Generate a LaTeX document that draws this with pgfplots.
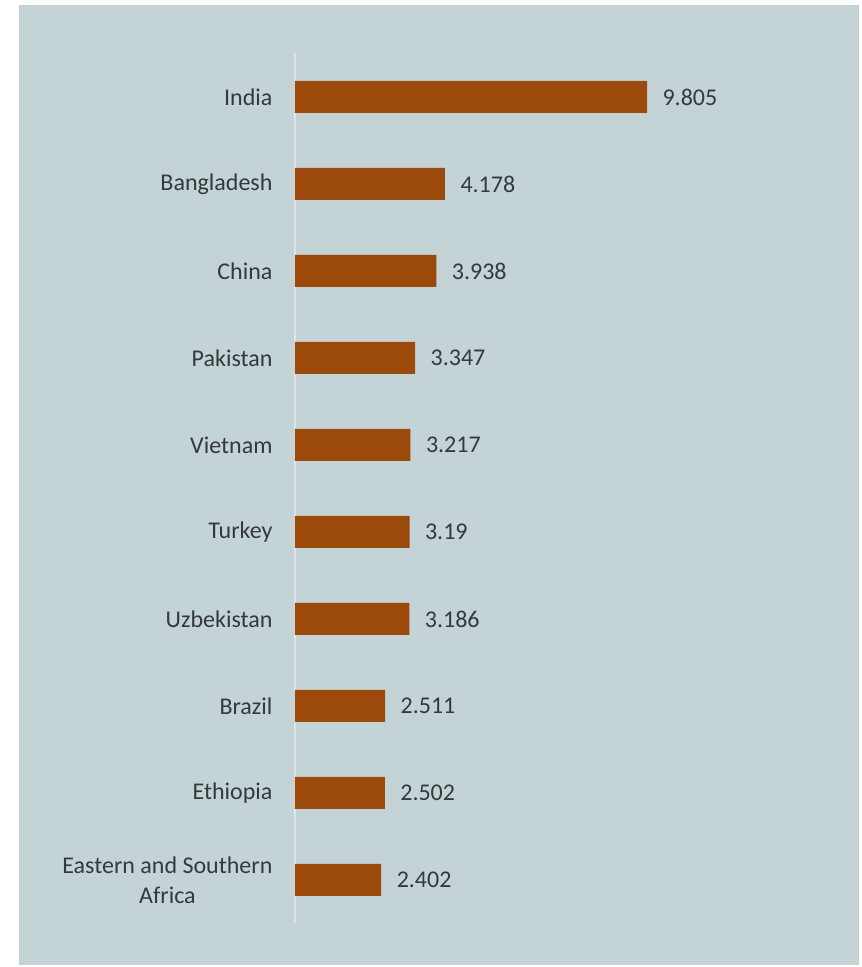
\documentclass[border=0pt]{standalone}
\usepackage{pgfplots}
\pgfplotsset{compat=1.18}
\usepackage{fontspec}
\setmainfont{Carlito}
\definecolor{bgc}{HTML}{C3D3D6}
\definecolor{barc}{HTML}{9C4A0C}
\definecolor{txtc}{HTML}{36393C}
\definecolor{axc}{HTML}{DCE5E7}
\begin{document}
\begin{tikzpicture}
\useasboundingbox (0pt,0pt) rectangle (862pt,967pt);
\fill[white] (0pt,0pt) rectangle (862pt,967pt);
\fill[bgc] (19pt,2pt) rectangle (859pt,962pt);
\begin{axis}[
  at={(295pt,87pt)}, anchor=origin,
  scale only axis, width=359pt, height=870pt,
  xmin=0, xmax=10, ymin=-0.5, ymax=9.5,
  hide x axis,
  axis y line*=left,
  y axis line style={draw=axc, line width=1.2pt, -},
  ytick={0,...,9},
  yticklabels={{Eastern and Southern\\Africa},Ethiopia,Brazil,Uzbekistan,Turkey,Vietnam,Pakistan,China,Bangladesh,India},
  major tick length=0pt,
  yticklabel style={font=\fontsize{24}{30}\selectfont, text=txtc, align=center, xshift=-19pt},
  xbar, bar width=32pt,
  point meta=explicit symbolic,
  nodes near coords,
  nodes near coords style={font=\fontsize{24}{30}\selectfont, text=txtc, anchor=west, xshift=12pt},
  clip=false,
]
\addplot[fill=barc, draw=none] coordinates {
  (2.402,0) [2.402]
  (2.502,1) [2.502]
  (2.511,2) [2.511]
  (3.186,3) [3.186]
  (3.19,4) [3.19]
  (3.217,5) [3.217]
  (3.347,6) [3.347]
  (3.938,7) [3.938]
  (4.178,8) [4.178]
  (9.805,9) [9.805]
};
\end{axis}
\end{tikzpicture}
\end{document}
